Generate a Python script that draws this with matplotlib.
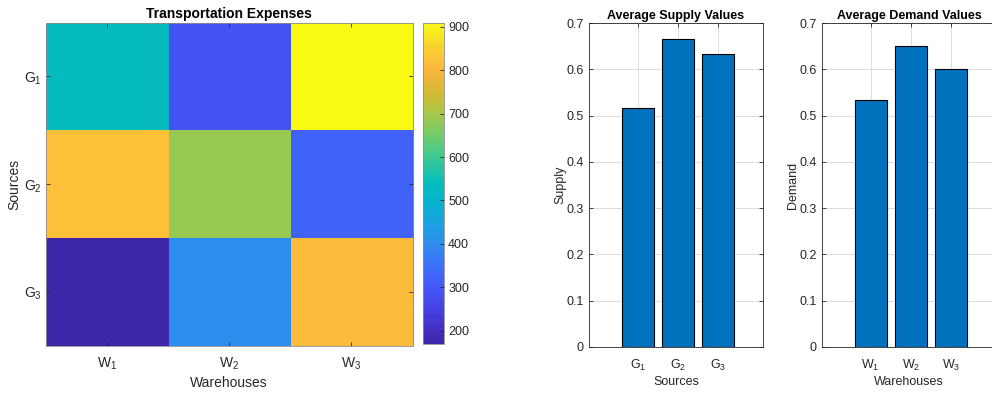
import matplotlib
matplotlib.use('Agg')
import matplotlib.pyplot as plt
import numpy as np
from matplotlib.colors import LinearSegmentedColormap

plt.rcParams['font.family'] = ['Liberation Sans', 'DejaVu Sans']
plt.rcParams['mathtext.default'] = 'regular'

# data
sources = ['G$_1$', 'G$_2$', 'G$_3$']
warehouses = ['W$_1$', 'W$_2$', 'W$_3$']
costs = np.array([[535, 290, 909],
                  [820, 685, 322],
                  [170, 402, 812]])
supply = [0.5167, 0.6667, 0.6333]
demand = [0.5333, 0.6500, 0.6000]

# rough parula
parula_pts = [
    (0.00, (0.2422, 0.1504, 0.6603)),
    (0.04, (0.2600, 0.1800, 0.7600)),
    (0.11, (0.2800, 0.2600, 0.9000)),
    (0.18, (0.2700, 0.3500, 0.9700)),
    (0.24, (0.2400, 0.4400, 0.9900)),
    (0.31, (0.1800, 0.5500, 0.9300)),
    (0.38, (0.1000, 0.6400, 0.8800)),
    (0.445, (0.0200, 0.7100, 0.8000)),
    (0.50, (0.0200, 0.7400, 0.7400)),
    (0.58, (0.2300, 0.7900, 0.5800)),
    (0.65, (0.4500, 0.8000, 0.4200)),
    (0.72, (0.6600, 0.7800, 0.2800)),
    (0.78, (0.8300, 0.7300, 0.2000)),
    (0.85, (0.9800, 0.7100, 0.2400)),
    (0.88, (0.9900, 0.7500, 0.2300)),
    (0.93, (0.9700, 0.8300, 0.1700)),
    (1.00, (0.9769, 0.9839, 0.0805)),
]
parula = LinearSegmentedColormap.from_list('parula', parula_pts, N=256)

txt = '#262626'
edge = '#262626'
grid_c = '#dcdcdc'
bar_c = '#0072BD'

fig = plt.figure(figsize=(9.92, 3.94), dpi=100)

# heatmap
ax1 = fig.add_axes([0.046, 0.1226, 0.370, 0.820])
im = ax1.imshow(costs, cmap=parula, aspect='auto',
                extent=(0.5, 3.5, 3.5, 0.5), vmin=costs.min(), vmax=costs.max())
ax1.set_xticks([1, 2, 3])
ax1.set_xticklabels(warehouses)
ax1.set_yticks([1, 2, 3])
ax1.set_yticklabels(sources)
ax1.set_xlabel('Warehouses', fontsize=10, color=txt, labelpad=3)
ax1.set_ylabel('Sources', fontsize=10, color=txt, labelpad=2)
ax1.set_title('Transportation Expenses', fontsize=10, fontweight='bold', color='black', pad=3)
ax1.tick_params(direction='in', top=True, right=True, length=3, width=0.6,
                labelsize=10, colors=txt)
ax1.tick_params(axis='x', pad=7)
ax1.tick_params(axis='y', pad=3)
for s in ax1.spines.values():
    s.set_color('#8c8c8c')
    s.set_linewidth(0.6)

cax = fig.add_axes([0.4264, 0.127, 0.0212, 0.8155])
cb = fig.colorbar(im, cax=cax)
cb.set_ticks([200, 300, 400, 500, 600, 700, 800, 900])
cb.ax.tick_params(direction='in', length=3, width=0.6, labelsize=9, colors=txt, pad=3)
cb.outline.set_edgecolor('#8c8c8c')
cb.outline.set_linewidth(0.6)


def bar_panel(rect, vals, labels, title, xlabel, ylabel):
    ax = fig.add_axes(rect)
    x = np.arange(1, len(vals) + 1)
    ax.bar(x, vals, width=0.8, color=bar_c, edgecolor='black', linewidth=0.8, zorder=3)
    ax.set_xlim(-0.21, 4.11)
    ax.set_ylim(0, 0.7)
    ax.set_xticks(x)
    ax.set_xticklabels(labels)
    ax.set_yticks(np.arange(0, 0.71, 0.1))
    ax.set_yticklabels(['0'] + ['%.1f' % v for v in np.arange(0.1, 0.71, 0.1)])
    ax.grid(True, color=grid_c, linewidth=0.7, zorder=0)
    ax.tick_params(direction='in', top=True, right=True, length=3, width=0.6,
                   labelsize=9, colors=txt)
    ax.tick_params(axis='x', pad=8)
    ax.tick_params(axis='y', pad=4)
    ax.set_title(title, fontsize=9, fontweight='bold', color='black', pad=3)
    ax.set_xlabel(xlabel, fontsize=9, color=txt, labelpad=2)
    ax.set_ylabel(ylabel, fontsize=9, color=txt, labelpad=0)
    for s in ax.spines.values():
        s.set_color(edge)
        s.set_linewidth(0.6)
    return ax


bar_panel([0.5938, 0.12, 0.1754, 0.821], supply, sources,
          'Average Supply Values', 'Sources', 'Supply')
bar_panel([0.8286, 0.12, 0.1754, 0.821], demand, warehouses,
          'Average Demand Values', 'Warehouses', 'Demand')

fig.savefig('out.png', dpi=100)
